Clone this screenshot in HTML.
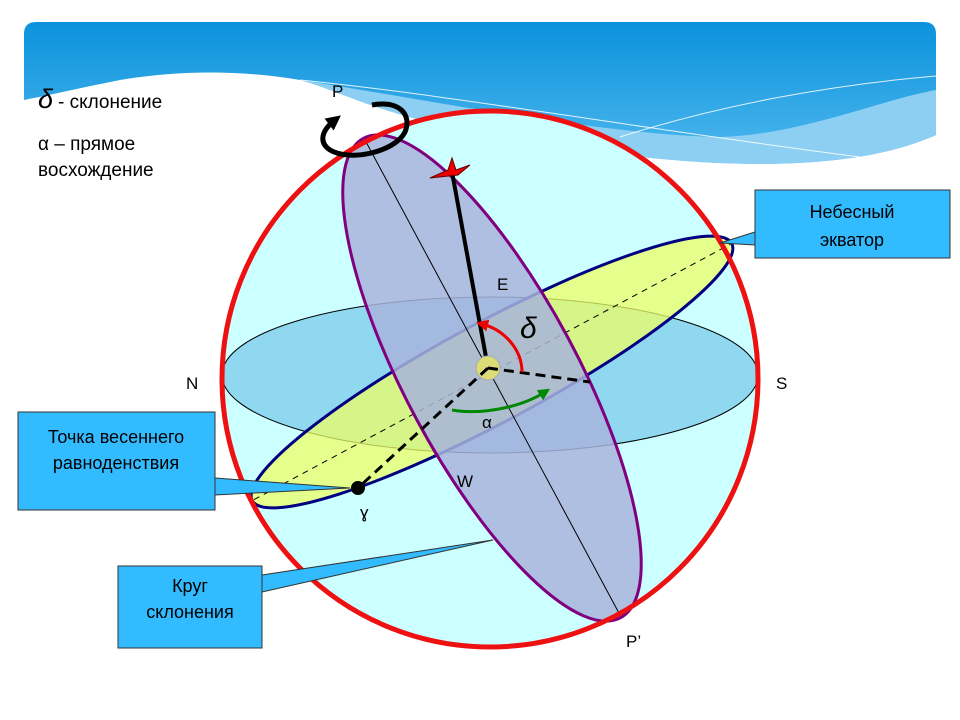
<!DOCTYPE html>
<html><head><meta charset="utf-8"><style>
body{margin:0;background:#fff}
svg{display:block}
text{font-family:"Liberation Sans","DejaVu Sans",sans-serif;}
</style></head><body>
<svg width="960" height="720" viewBox="0 0 960 720" xmlns="http://www.w3.org/2000/svg">
<defs>
<linearGradient id="sky" x1="0" y1="0" x2="0" y2="1">
<stop offset="0" stop-color="#0b92dc"/><stop offset="1" stop-color="#4fb8ee"/>
</linearGradient>
<marker id="ar" viewBox="0 0 10 10" refX="5" refY="5" markerWidth="4" markerHeight="4" orient="auto"><path d="M0,0L10,5L0,10z" fill="#e00"/></marker>
<marker id="ag" viewBox="0 0 10 10" refX="5" refY="5" markerWidth="4" markerHeight="4" orient="auto"><path d="M0,0L10,5L0,10z" fill="#080"/></marker>
<marker id="ak" viewBox="0 0 10 10" refX="5" refY="5" markerWidth="3" markerHeight="3" orient="auto"><path d="M0,0L10,5L0,10z" fill="#000"/></marker>
</defs>
<!-- header -->
<path d="M36,22 H924 Q936,22 936,34 V135 C880,160 800,168 700,162 C600,155 500,140 420,120 C360,104 330,88 300,80 C240,70 180,70 120,80 C80,88 50,95 24,100 V34 Q24,22 36,22Z" fill="url(#sky)"/>
<path d="M300,80 C400,95 600,135 720,137 C800,135 880,100 936,90 V135 C880,160 800,168 700,162 C600,155 500,140 420,120 C360,104 330,88 300,80Z" fill="#8dcff3"/>
<path d="M300,80 C450,95 650,130 860,157" stroke="#fff" stroke-width="1" fill="none" opacity="0.85"/>
<path d="M620,137 C720,105 830,85 936,76" stroke="#fff" stroke-width="1" fill="none" opacity="0.85"/>
<!-- sphere -->
<circle cx="490" cy="379" r="268" fill="#ccffff"/>
<ellipse cx="490" cy="375" rx="268" ry="78" fill="#8fd8f0" stroke="#000" stroke-width="1"/>
<g transform="rotate(-28.2 492 372)">
<ellipse cx="492" cy="372" rx="272" ry="50" fill="#eeff66" fill-opacity="0.75" stroke="#000080" stroke-width="3"/>
<line x1="222" y1="372" x2="762" y2="372" stroke="#000" stroke-width="1" stroke-dasharray="6,5"/>
</g>
<g transform="rotate(-28.2 492 378)">
<ellipse cx="492" cy="378" rx="86" ry="272" fill="#a8b4dc" fill-opacity="0.85" stroke="#800080" stroke-width="3"/>
</g>
<line x1="365" y1="140" x2="620" y2="615" stroke="#000" stroke-width="1"/>
<circle cx="490" cy="379" r="268" fill="none" stroke="#ee1111" stroke-width="5"/>
<!-- rotation arrow -->
<path d="M372,105 C400,100 412,115 405,132 C395,152 350,162 330,150 C318,142 322,130 335,120" fill="none" stroke="#000" stroke-width="5" marker-end="url(#ak)"/>
<!-- star line -->
<line x1="452" y1="172" x2="488" y2="368" stroke="#000" stroke-width="4"/>
<path d="M452,158 L456,170 L470,165 L458,175 L430,178 L448,170Z" fill="#e00" stroke="#600" stroke-width="1"/>
<circle cx="488" cy="368" r="12" fill="#dddd77" stroke="#aaa" stroke-width="1"/>
<path d="M488,368 L358,488" stroke="#000" stroke-width="3" stroke-dasharray="10,6"/>
<path d="M488,368 L590,382" stroke="#000" stroke-width="3" stroke-dasharray="10,6"/>
<path d="M522,372 C522,350 505,330 482,324" fill="none" stroke="#e00" stroke-width="3" marker-end="url(#ar)"/>
<path d="M452,410 C480,415 520,408 545,392" fill="none" stroke="#080" stroke-width="3" marker-end="url(#ag)"/>
<circle cx="358" cy="488" r="7" fill="#000"/>
<!-- labels -->
<text x="38" y="108" font-size="27" font-style="italic" font-family="Liberation Serif,serif">δ</text>
<text x="58" y="108" font-size="19">- склонение</text>
<text x="38" y="150" font-size="19">α – прямое</text>
<text x="38" y="176" font-size="19">восхождение</text>
<text x="332" y="97" font-size="17">P</text>
<text x="626" y="647" font-size="17">P’</text>
<text x="186" y="389" font-size="17">N</text>
<text x="776" y="389" font-size="17">S</text>
<text x="497" y="290" font-size="17">E</text>
<text x="457" y="487" font-size="17">W</text>
<text x="482" y="428" font-size="17">α</text>
<text x="520" y="338" font-size="30" font-style="italic" font-family="Liberation Serif,serif">δ</text>
<text x="360" y="518" font-size="17">ɣ</text>
<!-- callouts -->
<path d="M755,232 L720,243 L755,245Z" fill="#33bbff" stroke="#333" stroke-width="1"/>
<rect x="755" y="190" width="195" height="68" fill="#33bbff" stroke="#333" stroke-width="1"/>
<text x="852" y="218" font-size="18" text-anchor="middle">Небесный</text>
<text x="852" y="246" font-size="18" text-anchor="middle">экватор</text>
<path d="M215,478 L350,488 L215,495Z" fill="#33bbff" stroke="#333" stroke-width="1"/>
<rect x="18" y="412" width="197" height="98" fill="#33bbff" stroke="#333" stroke-width="1"/>
<text x="116" y="443" font-size="18" text-anchor="middle">Точка весеннего</text>
<text x="116" y="469" font-size="18" text-anchor="middle">равноденствия</text>
<path d="M262,575 L493,540 L262,592Z" fill="#33bbff" stroke="#333" stroke-width="1"/>
<rect x="118" y="566" width="144" height="82" fill="#33bbff" stroke="#333" stroke-width="1"/>
<text x="190" y="592" font-size="18" text-anchor="middle">Круг</text>
<text x="190" y="618" font-size="18" text-anchor="middle">склонения</text>
</svg>
</body></html>
